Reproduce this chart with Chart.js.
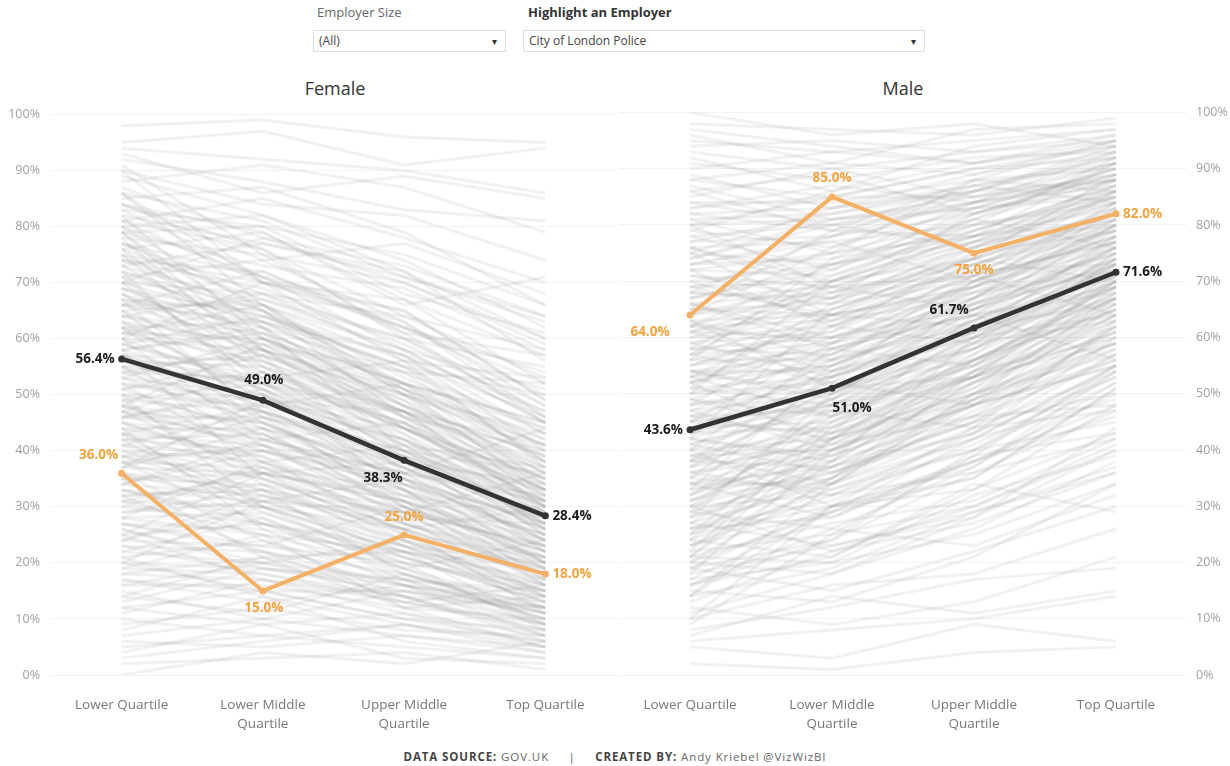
<!DOCTYPE html>
<html>
<head>
<meta charset="utf-8">
<title>Gender Pay Gap by Quartile</title>
<script src="https://cdn.jsdelivr.net/npm/chart.js@4/dist/chart.umd.min.js"></script>
<style>
  html, body { margin: 0; padding: 0; background: #fff; }
  body { width: 1230px; height: 766px; position: relative; overflow: hidden; font-family: "Open Sans", sans-serif; }
  .filter-label { position: absolute; top: 3px; font-size: 13px; color: #666; }
  .filter-label.bold { font-weight: bold; color: #333; }
  .select { position: absolute; top: 30px; height: 22px; border: 1px solid #dcdcdc; font-size: 12px; color: #444; line-height: 20px; padding-left: 5px; box-sizing: border-box; }
  .select span { position: absolute; right: 8px; top: 0; font-size: 10px; color: #333; }
  .panel-title { position: absolute; top: 76px; font-size: 18px; color: #333; transform: translateX(-50%); }
  .wrap { position: absolute; top: 96px; height: 644px; }
  .footer { position: absolute; top: 749px; left: 0; width: 1230px; text-align: center; font-size: 11.5px; letter-spacing: 0.9px; color: #666; }
  .footer b { color: #444; }
</style>
</head>
<body>
<div class="filter-label" style="left:317px">Employer Size</div>
<div class="filter-label bold" style="left:528px">Highlight an Employer</div>
<div class="select" style="left:313px;width:193px">(All)<span>&#9662;</span></div>
<div class="select" style="left:523px;width:402px">City of London Police<span>&#9662;</span></div>

<div class="panel-title" style="left:335px">Female</div>
<div class="panel-title" style="left:903px">Male</div>

<div class="wrap" style="left:0;width:620px"><canvas id="femaleChart"></canvas></div>
<div class="wrap" style="left:600px;width:630px"><canvas id="maleChart"></canvas></div>

<div class="footer"><b>DATA SOURCE:</b> GOV.UK &nbsp;&nbsp;&nbsp; | &nbsp;&nbsp;&nbsp; <b>CREATED BY:</b> Andy Kriebel @VizWizBI</div>

<script>
// Pay quartiles along the x axis
const quartiles = [['Lower Quartile'], ['Lower Middle', 'Quartile'], ['Upper Middle', 'Quartile'], ['Top Quartile']];
const yTicks = [0, 10, 20, 30, 40, 50, 60, 70, 80, 90, 100];

// Average across all employers
const femaleAverage = [56.4, 49.0, 38.3, 28.4];
const maleAverage = [43.6, 51.0, 61.7, 71.6];

// Highlighted employer: City of London Police
const policeFemale = [36.0, 15.0, 25.0, 18.0];
const policeMale = [64.0, 85.0, 75.0, 82.0];

// Female share per quartile for the other employers
const employersFemale = [
  [83, 71, 62, 50], [79, 80, 68, 61], [64, 58, 49, 31], [58, 62, 40, 36], [71, 52, 47, 29],
  [46, 51, 33, 20], [52, 38, 41, 27], [37, 44, 29, 16], [68, 57, 36, 44], [75, 63, 55, 38],
  [41, 35, 26, 30], [29, 33, 18, 11], [61, 66, 53, 42], [54, 47, 30, 19], [48, 42, 45, 34],
  [33, 27, 22, 9], [87, 78, 70, 59], [90, 84, 82, 74], [23, 18, 14, 7], [19, 25, 12, 14],
  [12, 9, 11, 5], [8, 14, 6, 3], [3, 6, 9, 4], [0, 4, 2, 6], [14, 11, 18, 10],
  [26, 20, 24, 13], [44, 39, 25, 21], [57, 44, 37, 23], [63, 49, 42, 26], [69, 61, 44, 35],
  [74, 69, 59, 47], [81, 76, 64, 53], [84, 74, 77, 68], [92, 88, 83, 81], [95, 97, 91, 94],
  [98, 99, 96, 95], [93, 86, 89, 85], [77, 66, 50, 33], [66, 72, 61, 57], [59, 53, 56, 46],
  [51, 57, 48, 39], [43, 48, 52, 45], [38, 31, 35, 24], [31, 36, 27, 21], [27, 23, 30, 18],
  [22, 28, 19, 24], [17, 13, 16, 11], [11, 17, 13, 16], [7, 10, 15, 12], [62, 45, 33, 17],
  [70, 54, 39, 22], [76, 58, 43, 26], [80, 65, 46, 30], [86, 70, 56, 37], [55, 41, 28, 14],
  [49, 34, 23, 12], [42, 29, 20, 8], [36, 24, 14, 6], [65, 67, 58, 51], [73, 77, 71, 63],
  [60, 70, 65, 49], [53, 60, 50, 41], [47, 54, 44, 32], [39, 46, 37, 28], [34, 40, 34, 26],
  [28, 38, 31, 22], [24, 32, 26, 17], [18, 21, 22, 19], [13, 19, 17, 15], [89, 82, 72, 56],
  [91, 75, 61, 45], [82, 60, 52, 34], [78, 56, 41, 25], [72, 50, 35, 20], [67, 46, 31, 16],
  [58, 35, 26, 11], [50, 30, 19, 9], [44, 26, 16, 7], [35, 21, 12, 5], [84, 79, 66, 71],
  [79, 73, 69, 58], [74, 72, 62, 54], [69, 64, 57, 43], [63, 59, 47, 37], [57, 52, 43, 31],
  [52, 49, 39, 29], [47, 45, 36, 24], [42, 43, 30, 21], [38, 37, 33, 19], [32, 34, 25, 14],
  [28, 29, 21, 13], [21, 24, 17, 10], [16, 20, 14, 8], [9, 12, 8, 7], [5, 7, 5, 3],
  [2, 3, 4, 1], [85, 87, 79, 66], [80, 82, 74, 62], [76, 79, 67, 52], [71, 74, 63, 46],
  [67, 62, 54, 38], [61, 56, 46, 35], [56, 55, 42, 30], [53, 45, 35, 27], [48, 40, 31, 23],
  [45, 37, 27, 18], [40, 33, 24, 16], [36, 30, 22, 15], [31, 25, 19, 12], [26, 19, 15, 9],
  [20, 15, 10, 6], [15, 10, 7, 4], [88, 91, 87, 79], [94, 92, 90, 86], [81, 85, 78, 70],
  [70, 78, 73, 64], [64, 68, 60, 55], [59, 64, 55, 50], [54, 58, 46, 40], [46, 50, 41, 37],
  [41, 47, 39, 33], [34, 42, 36, 31], [30, 37, 28, 27], [24, 30, 23, 20], [79, 62, 48, 39],
  [73, 60, 51, 32], [68, 53, 45, 28], [62, 51, 38, 24], [56, 48, 34, 21], [51, 43, 32, 20],
  [45, 38, 29, 17], [39, 32, 21, 13], [33, 28, 17, 10], [27, 22, 13, 8], [82, 77, 72, 60],
  [77, 71, 65, 49], [72, 65, 54, 44], [66, 63, 51, 42], [61, 60, 49, 37], [55, 52, 45, 33],
  [49, 52, 40, 31], [44, 44, 38, 29], [38, 41, 33, 25], [86, 66, 51, 41], [90, 70, 63, 48],
  [48, 59, 54, 52], [37, 49, 47, 41], [25, 36, 38, 34], [20, 31, 29, 36],
  [74, 65, 52, 41], [69, 58, 50, 36], [65, 55, 44, 33], [60, 51, 40, 27], [57, 49, 44, 32],
  [53, 50, 37, 26], [50, 44, 34, 25], [47, 41, 30, 22], [43, 36, 31, 20], [40, 38, 27, 19],
  [36, 33, 26, 18], [33, 31, 23, 15], [30, 27, 20, 16], [27, 26, 21, 14], [23, 22, 18, 12],
  [19, 18, 13, 9], [16, 16, 12, 10], [84, 76, 60, 46], [80, 71, 58, 45], [77, 68, 57, 40],
  [72, 62, 48, 35], [68, 60, 46, 33], [63, 54, 45, 30], [58, 50, 38, 28], [55, 46, 39, 30],
  [49, 47, 37, 26], [46, 43, 33, 23], [42, 40, 32, 25], [39, 35, 28, 21], [35, 34, 30, 22],
  [31, 30, 26, 19], [28, 25, 22, 17], [24, 23, 20, 15], [20, 19, 16, 13], [17, 15, 15, 11],
  [81, 70, 62, 52], [76, 67, 60, 48], [73, 66, 58, 45], [70, 63, 52, 39], [66, 59, 48, 36],
  [62, 57, 47, 34], [59, 52, 41, 31], [56, 51, 42, 29], [52, 47, 38, 27], [48, 45, 35, 24],
  [45, 42, 34, 28], [41, 39, 29, 23], [37, 36, 31, 24], [34, 32, 27, 20], [29, 31, 24, 18],
  [25, 27, 23, 16], [22, 20, 17, 14], [18, 17, 14, 12], [71, 64, 55, 43], [67, 65, 50, 40],
  [64, 61, 52, 44], [60, 58, 51, 38], [57, 56, 47, 36], [54, 53, 44, 35], [50, 48, 42, 33],
  [46, 46, 40, 30], [43, 41, 36, 32], [39, 40, 35, 27], [35, 36, 32, 28], [32, 33, 29, 23],
  [79, 58, 44, 31], [75, 55, 47, 30], [65, 47, 40, 25], [60, 42, 36, 22], [47, 36, 24, 15],
  [43, 30, 22, 14], [38, 27, 18, 11], [32, 22, 16, 9], [25, 17, 11, 7], [21, 14, 9, 5],
  [86, 81, 71, 64], [83, 80, 75, 66], [78, 75, 70, 60], [75, 70, 67, 57], [70, 68, 64, 58],
  [66, 66, 56, 53], [62, 63, 57, 47], [58, 61, 52, 45], [55, 57, 50, 43], [51, 54, 47, 38],
  [12, 15, 10, 8], [10, 7, 9, 6], [6, 5, 7, 5], [4, 9, 3, 2], [14, 21, 16, 12]
];
// every quartile splits into female + male = 100%
const employersMale = employersFemale.map(row => row.map(v => 100 - v));

const GREY = 'rgba(150,150,150,0.13)';
const ORANGE = '#f4b064';
const ORANGE_TEXT = '#f0a33f';
const DARK = '#333333';

// value labels next to the highlighted lines: [dx, dy, textAlign] per point
const pointLabels = {
  id: 'pointLabels',
  afterDatasetsDraw(chart) {
    const ctx = chart.ctx;
    chart.data.datasets.forEach((ds, i) => {
      if (!ds.labelOffsets) return;
      const meta = chart.getDatasetMeta(i);
      ctx.save();
      ctx.font = 'bold 13.5px "Open Sans"';
      ctx.fillStyle = ds.labelColor;
      ctx.textBaseline = 'middle';
      meta.data.forEach((pt, j) => {
        const [dx, dy, align] = ds.labelOffsets[j];
        ctx.textAlign = align;
        ctx.fillText(ds.data[j].toFixed(1) + '%', pt.x + dx, pt.y + dy);
      });
      ctx.restore();
    });
  }
};

function buildChart(id, avg, highlight, others, side, avgOffsets, hiOffsets) {
  const datasets = [
    { data: avg, borderColor: DARK, backgroundColor: DARK, borderWidth: 4.5, pointRadius: 3.5, pointBorderWidth: 0, labelColor: '#1a1a1a', labelOffsets: avgOffsets },
    { data: highlight, borderColor: ORANGE, backgroundColor: ORANGE, borderWidth: 4, pointRadius: 3.5, pointBorderWidth: 0, labelColor: ORANGE_TEXT, labelOffsets: hiOffsets }
  ];
  others.forEach(row => {
    datasets.push({ data: row, borderColor: GREY, borderWidth: 3, borderCapStyle: 'butt', pointRadius: 0 });
  });

  return new Chart(document.getElementById(id), {
    type: 'line',
    data: { labels: quartiles, datasets: datasets },
    options: {
      responsive: true,
      maintainAspectRatio: false,
      animation: false,
      events: [],
      layout: { padding: side === 'left' ? { top: 9, right: 1 } : { top: 9, left: 19 } },
      plugins: { legend: { display: false }, tooltip: { enabled: false } },
      scales: {
        x: {
          offset: true,
          grid: { display: false },
          border: { display: false },
          ticks: { padding: 12, color: '#777', font: { family: 'Open Sans', size: 13.5, lineHeight: 1.45 } },
          afterFit: s => { s.height = 65; }
        },
        y: {
          position: side,
          min: 0,
          max: 100,
          afterBuildTicks: s => { s.ticks = yTicks.map(v => ({ value: v })); },
          grid: { color: '#f2f2f2', drawTicks: false },
          border: { display: false },
          ticks: {
            padding: side === 'left' ? 11 : 9,
            color: '#a0a0a0',
            font: { family: 'Open Sans', size: 12.5 },
            callback: v => v + '%'
          },
          afterFit: s => { s.width = side === 'left' ? 51 : 43; }
        }
      }
    },
    plugins: [pointLabels]
  });
}

buildChart('femaleChart', femaleAverage, policeFemale, employersFemale, 'left',
  [[-7, 0, 'right'], [1, -20, 'center'], [-21, 18, 'center'], [7, 0, 'left']],
  [[-23, -18, 'center'], [1, 17, 'center'], [0, -18, 'center'], [7, 0, 'left']]);

buildChart('maleChart', maleAverage, policeMale, employersMale, 'right',
  [[-7, 0, 'right'], [20, 20, 'center'], [-25, -18, 'center'], [7, 0, 'left']],
  [[-40, 17, 'center'], [0, -19, 'center'], [0, 17, 'center'], [7, 0, 'left']]);
</script>
</body>
</html>
